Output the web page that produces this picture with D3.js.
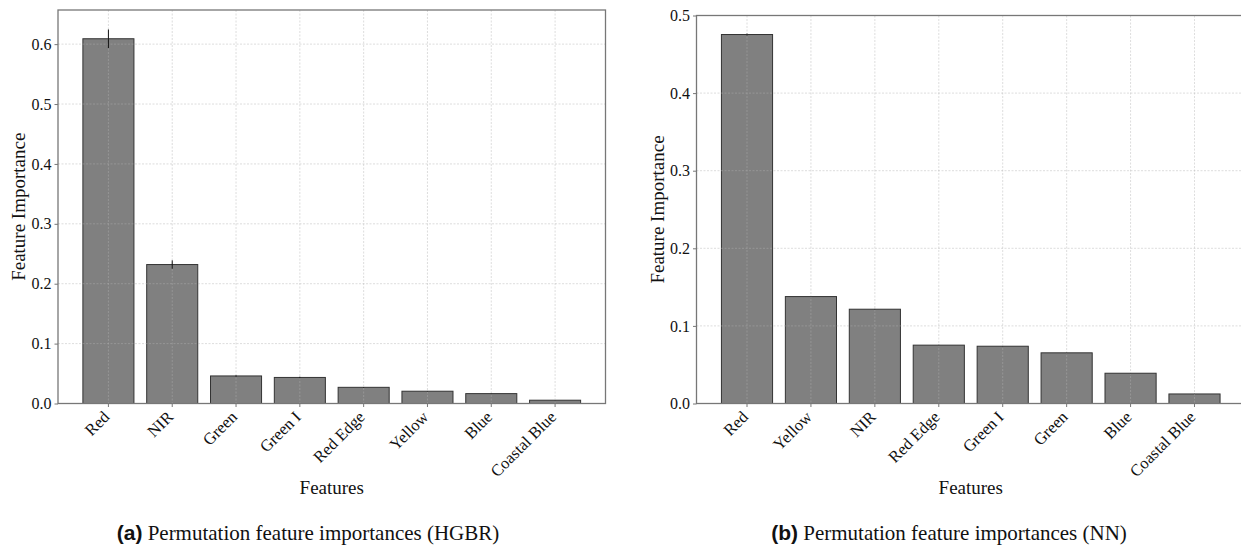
<!DOCTYPE html>
<html>
<head>
<meta charset="utf-8">
<script src="https://cdn.jsdelivr.net/npm/d3@7"></script>
<style>
    body { margin: 0; background: #fff; }
    svg { display: block; }
</style>
</head>
<body>
<div id="chart"></div>
<script>
// HGBR panel (a)
const hgbrFeatures = ["Red", "NIR", "Green", "Green I", "Red Edge", "Yellow", "Blue", "Coastal Blue"];
const hgbrValues = [0.609, 0.232, 0.046, 0.0435, 0.027, 0.0205, 0.0165, 0.0055];
const hgbrErrors = [0.0155, 0.007, 0.0012, 0.0012, 0.0005, 0.0004, 0.0004, 0.0003];
const hgbrTicks = [0.0, 0.1, 0.2, 0.3, 0.4, 0.5, 0.6];

// NN panel (b)
const nnFeatures = ["Red", "Yellow", "NIR", "Red Edge", "Green I", "Green", "Blue", "Coastal Blue"];
const nnValues = [0.4755, 0.1378, 0.1215, 0.0752, 0.0738, 0.0653, 0.039, 0.0123];
const nnErrors = [0.0012, 0.0004, 0.0004, 0.0004, 0.0003, 0.0003, 0.0003, 0.0002];
const nnTicks = [0.0, 0.1, 0.2, 0.3, 0.4, 0.5];

const width = 1241;
const height = 546;

const svg = d3.select("#chart")
    .append("svg")
    .attr("width", width)
    .attr("height", height);

const serif = "'Liberation Serif', 'Times New Roman', serif";
const sans = "'Liberation Sans', Arial, Helvetica, sans-serif";

/**
 * Draw one bar panel with error bars, grid and rotated labels.
 */
function drawPanel(cfg) {
    const g = svg.append("g");

    const x = d3.scaleBand()
        .domain(cfg.features)
        .range([cfg.left, cfg.right])
        .paddingInner(0.2)
        .paddingOuter(0.39);

    const y = d3.scaleLinear()
        .domain([0, cfg.yMax])
        .range([cfg.bottom, cfg.top]);

    const cx = d => x(d) + x.bandwidth() / 2;

    const rows = cfg.features.map((f, i) => ({ f: f, v: cfg.values[i], e: cfg.errors[i] }));

    // bars
    g.selectAll(".bar")
        .data(rows)
        .join("rect")
        .attr("class", "bar")
        .attr("x", d => x(d.f))
        .attr("y", d => y(d.v))
        .attr("width", x.bandwidth())
        .attr("height", d => y(0) - y(d.v))
        .attr("fill", "#808080")
        .attr("stroke", "#333")
        .attr("stroke-width", 1);

    // grid (drawn over the bars, light and dashed)
    g.selectAll(".ygrid")
        .data(cfg.ticks.slice(1))
        .join("line")
        .attr("class", "ygrid")
        .attr("x1", cfg.left)
        .attr("x2", cfg.right)
        .attr("y1", d => y(d))
        .attr("y2", d => y(d))
        .attr("stroke", "#b0b0b0")
        .attr("stroke-opacity", 0.55)
        .attr("stroke-width", 0.8)
        .attr("stroke-dasharray", "2,1.5");

    g.selectAll(".xgrid")
        .data(cfg.features)
        .join("line")
        .attr("class", "xgrid")
        .attr("x1", d => cx(d))
        .attr("x2", d => cx(d))
        .attr("y1", cfg.top)
        .attr("y2", cfg.bottom)
        .attr("stroke", "#b0b0b0")
        .attr("stroke-opacity", 0.55)
        .attr("stroke-width", 0.8)
        .attr("stroke-dasharray", "2,1.5");

    // error bars
    g.selectAll(".err")
        .data(rows)
        .join("line")
        .attr("class", "err")
        .attr("x1", d => cx(d.f))
        .attr("x2", d => cx(d.f))
        .attr("y1", d => y(d.v - d.e))
        .attr("y2", d => y(d.v + d.e))
        .attr("stroke", "#111")
        .attr("stroke-width", 1);

    // frame
    g.append("rect")
        .attr("x", cfg.left)
        .attr("y", cfg.top)
        .attr("width", cfg.right - cfg.left)
        .attr("height", cfg.bottom - cfg.top)
        .attr("fill", "none")
        .attr("stroke", "#777")
        .attr("stroke-width", 1.3);

    // y axis
    const yAxis = g.append("g")
        .attr("transform", `translate(${cfg.left},0)`)
        .call(d3.axisLeft(y).tickValues(cfg.ticks).tickFormat(d3.format(".1f")).tickSize(3.5).tickPadding(3));
    yAxis.select(".domain").remove();
    yAxis.selectAll(".tick line").attr("stroke", "#777");
    yAxis.selectAll(".tick text")
        .attr("fill", "#111")
        .style("font-family", serif)
        .style("font-size", "16px");

    // x axis
    const xAxis = g.append("g")
        .attr("transform", `translate(0,${cfg.bottom})`)
        .call(d3.axisBottom(x).tickSize(3.5).tickFormat(""));
    xAxis.select(".domain").remove();
    xAxis.selectAll(".tick line").attr("stroke", "#777");

    g.selectAll(".xlabel")
        .data(cfg.features)
        .join("text")
        .attr("class", "xlabel")
        .attr("transform", d => `translate(${cx(d) + 2},${cfg.bottom + 14.5}) rotate(-45)`)
        .attr("text-anchor", "end")
        .attr("fill", "#111")
        .style("font-family", serif)
        .style("font-size", "16.5px")
        .text(d => d);

    // axis titles
    g.append("text")
        .attr("transform", `translate(${cfg.yLabelX},${(cfg.top + cfg.bottom) / 2}) rotate(-90)`)
        .attr("text-anchor", "middle")
        .attr("fill", "#111")
        .style("font-family", serif)
        .style("font-size", "19px")
        .text("Feature Importance");

    g.append("text")
        .attr("x", (cfg.left + cfg.right) / 2)
        .attr("y", 494)
        .attr("text-anchor", "middle")
        .attr("fill", "#111")
        .style("font-family", serif)
        .style("font-size", "19px")
        .text("Features");

    // caption
    const cap = g.append("text")
        .attr("x", cfg.captionX)
        .attr("y", 540)
        .attr("text-anchor", "middle")
        .attr("fill", "#111")
        .style("font-size", "21px");
    cap.append("tspan")
        .style("font-family", sans)
        .style("font-weight", "bold")
        .text(cfg.tag);
    cap.append("tspan")
        .style("font-family", serif)
        .text(" " + cfg.caption);
}

drawPanel({
    features: hgbrFeatures,
    values: hgbrValues,
    errors: hgbrErrors,
    ticks: hgbrTicks,
    yMax: 0.657,
    left: 58,
    right: 605.5,
    top: 10,
    bottom: 403.5,
    yLabelX: 25,
    captionX: 308,
    tag: "(a)",
    caption: "Permutation feature importances (HGBR)"
});

drawPanel({
    features: nnFeatures,
    values: nnValues,
    errors: nnErrors,
    ticks: nnTicks,
    yMax: 0.5,
    left: 696.5,
    right: 1245,
    top: 15.5,
    bottom: 403.5,
    yLabelX: 664,
    captionX: 949,
    tag: "(b)",
    caption: "Permutation feature importances (NN)"
});
</script>
</body>
</html>
